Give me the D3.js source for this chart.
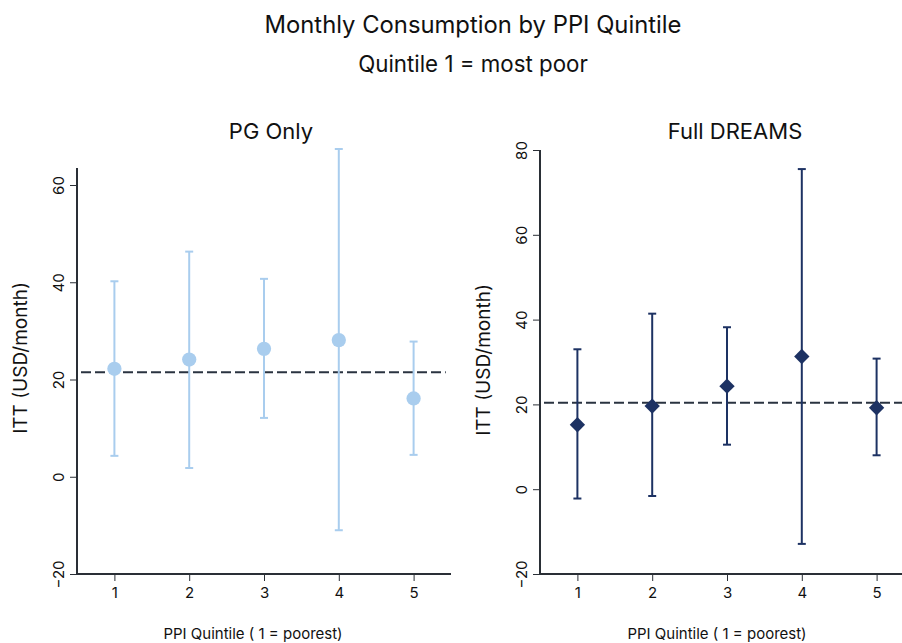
<!DOCTYPE html>
<html>
<head>
<meta charset="utf-8">
<script src="https://cdn.jsdelivr.net/npm/d3@7"></script>
<style>
  html, body { margin: 0; padding: 0; background: #fff; }
  svg { display: block; font-family: Inter, "Noto Sans", sans-serif; }
</style>
</head>
<body>
<svg id="chart" width="902" height="643"></svg>
<script>
// Quintile categories and treatment effects (ITT, USD/month) with 95% CI
const quintiles = [1, 2, 3, 4, 5];

const pgEstimate = [22.2, 24.1, 26.3, 28.1, 16.1];
const pgLower    = [4.3, 1.8, 12.1, -11.0, 4.5];
const pgUpper    = [40.2, 46.3, 40.7, 67.4, 27.8];
const pgOverall  = 21.5;

const fullEstimate = [15.2, 19.6, 24.3, 31.3, 19.2];
const fullLower    = [-2.2, -1.6, 10.5, -12.9, 8.0];
const fullUpper    = [33.0, 41.4, 38.2, 75.5, 30.8];
const fullOverall  = 20.4;

const pgTicks   = [-20, 0, 20, 40, 60];
const fullTicks = [-20, 0, 20, 40, 60, 80];

const svg = d3.select("#chart");
const axisColor = "#2a2f36";
const fontStack = "Inter, 'Noto Sans', sans-serif";

svg.append("text").attr("x", 473).attr("y", 33).attr("text-anchor", "middle")
  .attr("font-size", 23.8).attr("fill", "#111").text("Monthly Consumption by PPI Quintile");
svg.append("text").attr("x", 473).attr("y", 72).attr("text-anchor", "middle")
  .attr("font-size", 22.3).attr("fill", "#111").text("Quintile 1 = most poor");

function panel(cfg) {
  const g = svg.append("g");
  const x = d3.scaleLinear().domain([0.5, 5.5]).range([cfg.left, cfg.left + 374]);
  const y = d3.scaleLinear().domain([-20, cfg.yTop]).range([574, cfg.yTopPx]);

  const rows = quintiles.map((q, i) => ({ q, est: cfg.est[i], lo: cfg.lo[i], hi: cfg.hi[i] }));

  // panel title
  g.append("text").attr("x", cfg.titleX).attr("y", 138.5).attr("text-anchor", "middle")
    .attr("font-size", 22).attr("fill", "#111").text(cfg.title);

  // y axis
  const yAxis = g.append("g").attr("transform", `translate(${cfg.left},0)`)
    .call(d3.axisLeft(y).tickValues(cfg.ticks).tickSize(7).tickFormat(d3.format("d")));
  yAxis.select(".domain").attr("d", `M0,${y(-20)}V${y(cfg.axisTop)}`)
    .attr("stroke", axisColor).attr("stroke-width", 2);
  yAxis.selectAll(".tick line").attr("stroke", axisColor).attr("stroke-width", 1);
  yAxis.selectAll(".tick text")
    .attr("x", 0).attr("y", 0).attr("dy", null)
    .attr("text-anchor", "middle")
    .attr("font-size", 15).attr("fill", "#111")
    .attr("font-family", fontStack)
    .attr("transform", "translate(-13,0) rotate(-90)");

  // x axis
  const xAxis = g.append("g").attr("transform", `translate(0,${y(-20)})`)
    .call(d3.axisBottom(x).tickValues(quintiles).tickSize(7).tickPadding(6).tickFormat(d3.format("d")));
  xAxis.select(".domain").attr("d", `M${cfg.left},0H${x(5.5)}`)
    .attr("stroke", axisColor).attr("stroke-width", 2);
  xAxis.selectAll(".tick line").attr("stroke", axisColor).attr("stroke-width", 1);
  xAxis.selectAll(".tick text").attr("font-size", 15).attr("fill", "#111")
    .attr("font-family", fontStack);

  // axis titles
  g.append("text")
    .attr("transform", `translate(${cfg.yLabelX},${cfg.yLabelY}) rotate(-90)`)
    .attr("text-anchor", "middle").attr("font-size", 19).attr("fill", "#111")
    .text("ITT (USD/month)");
  g.append("text").attr("x", cfg.xLabelX).attr("y", 639).attr("text-anchor", "middle")
    .attr("font-size", 15).attr("fill", "#111").text("PPI Quintile ( 1 = poorest)");

  // overall effect reference line
  g.append("line")
    .attr("x1", cfg.left + 4).attr("x2", x(5.43))
    .attr("y1", y(cfg.overall)).attr("y2", y(cfg.overall))
    .attr("stroke", "#2a3340").attr("stroke-width", 2).attr("stroke-dasharray", "10,4");

  // confidence intervals
  const ci = g.append("g");
  ci.selectAll("line.bar").data(rows).join("line").attr("class", "bar")
    .attr("x1", d => x(d.q)).attr("x2", d => x(d.q))
    .attr("y1", d => y(d.lo)).attr("y2", d => y(d.hi))
    .attr("stroke", cfg.color).attr("stroke-width", 2);
  ci.selectAll("line.capHi").data(rows).join("line").attr("class", "capHi")
    .attr("x1", d => x(d.q) - 4).attr("x2", d => x(d.q) + 4)
    .attr("y1", d => y(d.hi)).attr("y2", d => y(d.hi))
    .attr("stroke", cfg.color).attr("stroke-width", 2);
  ci.selectAll("line.capLo").data(rows).join("line").attr("class", "capLo")
    .attr("x1", d => x(d.q) - 4).attr("x2", d => x(d.q) + 4)
    .attr("y1", d => y(d.lo)).attr("y2", d => y(d.lo))
    .attr("stroke", cfg.color).attr("stroke-width", 2);

  // point estimates
  g.selectAll("path.pt").data(rows).join("path").attr("class", "pt")
    .attr("transform", d => `translate(${x(d.q)},${y(d.est)})`)
    .attr("d", d3.symbol().type(cfg.symbol).size(cfg.symbolSize))
    .attr("fill", cfg.color);
}

panel({
  title: "PG Only", titleX: 271, left: 77,
  yTop: 60, yTopPx: 185, axisTop: 63.5, ticks: pgTicks,
  est: pgEstimate, lo: pgLower, hi: pgUpper, overall: pgOverall,
  color: "#a9cdee", symbol: d3.symbolCircle, symbolSize: 160,
  yLabelX: 27, yLabelY: 358, xLabelX: 253
});

panel({
  title: "Full DREAMS", titleX: 735, left: 540,
  yTop: 80, yTopPx: 150, axisTop: 80, ticks: fullTicks,
  est: fullEstimate, lo: fullLower, hi: fullUpper, overall: fullOverall,
  color: "#1d3263", symbol: d3.symbolDiamond2, symbolSize: 150,
  yLabelX: 490, yLabelY: 360, xLabelX: 717
});
</script>
</body>
</html>
